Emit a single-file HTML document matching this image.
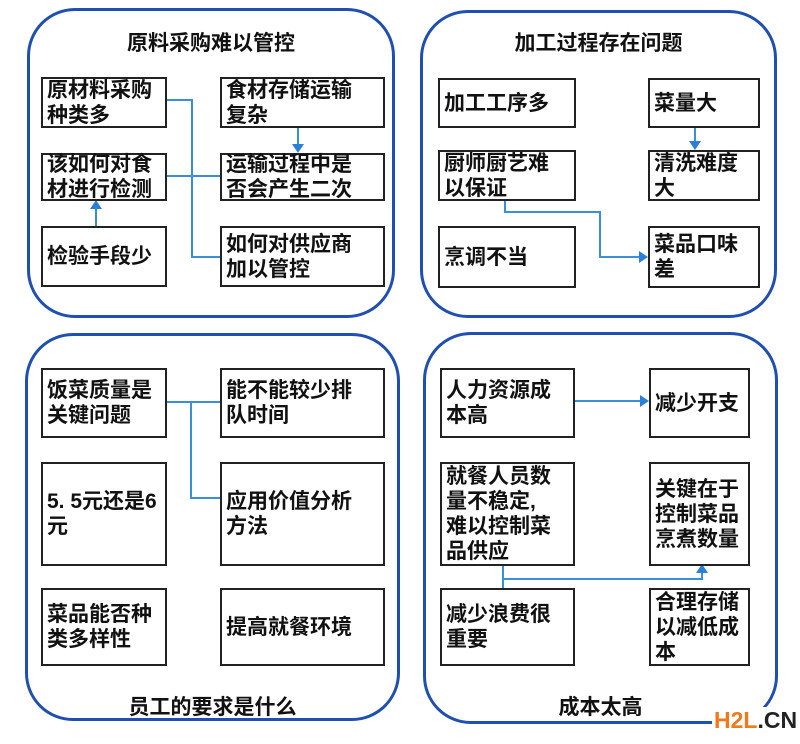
<!DOCTYPE html>
<html><head><meta charset="utf-8"><style>
body{margin:0;width:800px;height:744px;background:#fff;position:relative;overflow:hidden;font-family:"Liberation Sans","Noto Sans CJK SC",sans-serif;}
.p{position:absolute;border:3px solid #1f4fb0;border-radius:48px;box-sizing:border-box;}
.b{position:absolute;border:2px solid #222;box-sizing:border-box;background:#fff;font-size:21px;font-weight:bold;line-height:25px;padding:0 0 0 4px;display:flex;align-items:center;color:#111;white-space:nowrap}
.t{position:absolute;font-size:21px;font-weight:bold;color:#111;text-align:center}
svg{position:absolute;left:0;top:0}
</style></head><body>
<div class="p" style="left:27px;top:8px;width:368px;height:310px"></div>
<div class="p" style="left:420px;top:10px;width:357px;height:308px"></div>
<div class="p" style="left:25px;top:333px;width:375px;height:388px"></div>
<div class="p" style="left:423px;top:332px;width:355px;height:392px"></div>

<div class="t" style="left:27px;top:27px;width:368px">原料采购难以管控</div>
<div class="t" style="left:420px;top:27px;width:357px">加工过程存在问题</div>
<div class="t" style="left:25px;top:691px;width:375px">员工的要求是什么</div>
<div class="t" style="left:423px;top:691px;width:355px">成本太高</div>

<svg width="800" height="744">
<g stroke="#3a8fd8" stroke-width="2" fill="none">
<polyline points="166,100 192,100 192,257 220,257"/>
<line x1="166" y1="176" x2="220" y2="176"/>
<line x1="298" y1="127" x2="298" y2="146"/>
<line x1="96" y1="226" x2="96" y2="207"/>
<line x1="695" y1="127" x2="695" y2="143"/>
<polyline points="505,200 505,212 600,212 600,257 640,257"/>
<polyline points="166,402 220,402"/>
<polyline points="191,402 191,498 220,498"/>
<line x1="574" y1="401" x2="641" y2="401"/>
<polyline points="503,565 503,588"/>
<polyline points="503,579 702,579 702,572"/>
</g>
<g fill="#2a7fd8">
<polygon points="292,144 304,144 298,153"/>
<polygon points="90,209 102,209 96,200"/>
<polygon points="689,141 701,141 695,150"/>
<polygon points="639,251 639,263 648,257"/>
<polygon points="640,395 640,407 649,401"/>
<polygon points="696,573 708,573 702,564"/>
</g>
</svg>

<div class="b" style="left:41px;top:77px;width:126px;height:51px">原材料采购<br>种类多</div>
<div class="b" style="left:220px;top:77px;width:165px;height:51px">食材存储运输<br>复杂</div>
<div class="b" style="left:41px;top:153px;width:126px;height:48px">该如何对食<br>材进行检测</div>
<div class="b" style="left:220px;top:153px;width:165px;height:48px">运输过程中是<br>否会产生二次</div>
<div class="b" style="left:41px;top:226px;width:126px;height:61px">检验手段少</div>
<div class="b" style="left:220px;top:226px;width:165px;height:61px">如何对供应商<br>加以管控</div>

<div class="b" style="left:438px;top:78px;width:138px;height:50px">加工工序多</div>
<div class="b" style="left:648px;top:78px;width:112px;height:50px">菜量大</div>
<div class="b" style="left:438px;top:150px;width:138px;height:51px">厨师厨艺难<br>以保证</div>
<div class="b" style="left:648px;top:150px;width:112px;height:51px">清洗难度<br>大</div>
<div class="b" style="left:438px;top:226px;width:138px;height:62px">烹调不当</div>
<div class="b" style="left:648px;top:226px;width:112px;height:62px">菜品口味<br>差</div>

<div class="b" style="left:41px;top:368px;width:126px;height:70px">饭菜质量是<br>关键问题</div>
<div class="b" style="left:220px;top:368px;width:165px;height:70px">能不能较少排<br>队时间</div>
<div class="b" style="left:41px;top:462px;width:126px;height:104px">5. 5元还是6<br>元</div>
<div class="b" style="left:220px;top:462px;width:165px;height:104px">应用价值分析<br>方法</div>
<div class="b" style="left:41px;top:588px;width:126px;height:78px">菜品能否种<br>类多样性</div>
<div class="b" style="left:220px;top:588px;width:165px;height:78px">提高就餐环境</div>

<div class="b" style="left:440px;top:368px;width:135px;height:70px">人力资源成<br>本高</div>
<div class="b" style="left:649px;top:368px;width:101px;height:70px">减少开支</div>
<div class="b" style="left:440px;top:462px;width:135px;height:104px">就餐人员数<br>量不稳定,<br>难以控制菜<br>品供应</div>
<div class="b" style="left:649px;top:462px;width:101px;height:104px">关键在于<br>控制菜品<br>烹煮数量</div>
<div class="b" style="left:440px;top:588px;width:135px;height:78px">减少浪费很<br>重要</div>
<div class="b" style="left:649px;top:588px;width:101px;height:78px">合理存储<br>以减低成<br>本</div>

<div style="position:absolute;left:712px;top:707px;font-size:23px;font-weight:bold;font-family:'Liberation Sans',sans-serif;background:#fff;padding:0 2px"><span style="color:#f07a1a">H2L</span><span style="color:#222">.CN</span></div>
</body></html>
